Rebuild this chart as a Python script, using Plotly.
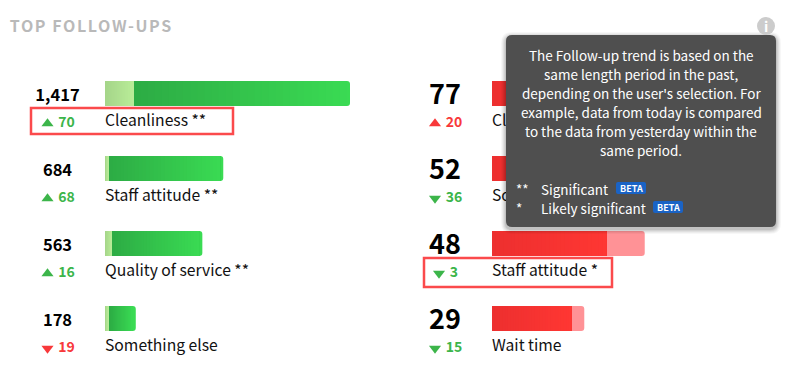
import plotly.graph_objects as go

# ---------- data ----------
left_categories = ["Cleanliness **", "Staff attitude **", "Quality of service **", "Something else"]
left_totals = [1417, 684, 563, 178]
left_light = [162, 23, 40, 23]
left_trends = [70, 68, 16, -19]

right_categories = ["Cleanliness", "Something else", "Staff attitude *", "Wait time"]
right_totals = [77, 52, 48, 29]
right_dark = [60, 40, 36, 25]
right_trends = [20, -36, -3, -15]

tooltip_lines = [
    "The Follow-up trend is based on the",
    "same length period in the past,",
    "depending on the user's selection. For",
    "example, data from today is compared",
    "to the data from yesterday within the",
    "same period.",
]
legend_marks = ["**", "*"]
legend_names = ["Significant", "Likely significant"]

# ---------- style ----------
W, H = 791, 390
FONT = "Noto Sans CJK JP"
GREEN, RED = "#3cb54a", "#f8383a"
ROWS = [0, 1, 2, 3]
ROW_PX = [93.5 + 75 * r for r in ROWS]
SLICES = 30


def lerp(c1, c2, t):
    return "rgb(%d,%d,%d)" % tuple(round(a + (b - a) * t) for a, b in zip(c1, c2))


def gradient_trace(starts, ends, c1, c2, xa, ya):
    ys, bases, lens, cols = [], [], [], []
    for r, s, e in zip(ROWS, starts, ends):
        for i in range(SLICES):
            t = i / SLICES
            b = s + (e - s) * t
            ys.append(r)
            bases.append(b)
            lens.append(e - b)
            cols.append(lerp(c1, c2, t))
    return go.Bar(y=ys, x=lens, base=bases, orientation="h", width=1 / 3,
                  marker=dict(color=cols, line_width=0), xaxis=xa, yaxis=ya, hoverinfo="skip")


fig = go.Figure()

# left bars (light then dark, green)
fig.add_trace(go.Bar(y=ROWS, x=left_totals, orientation="h", width=1 / 3,
                     marker=dict(color="#3adb53", line_width=0, cornerradius=3),
                     xaxis="x", yaxis="y", hoverinfo="skip"))
px_left = 1417 / 245
fig.add_trace(gradient_trace(left_light, [t - 3 * px_left for t in left_totals],
                             (45, 172, 69), (58, 219, 83), "x", "y"))
fig.add_trace(gradient_trace([0] * 4, left_light, (165, 213, 138), (185, 236, 152), "x", "y"))

# right bars (dark then light, red)
fig.add_trace(go.Bar(y=ROWS, x=right_totals, orientation="h", width=1 / 3,
                     marker=dict(color="#ff9296", line_width=0, cornerradius=3),
                     xaxis="x2", yaxis="y2", hoverinfo="skip"))
fig.add_trace(gradient_trace([0] * 4, right_dark, (237, 47, 47), (255, 55, 51), "x2", "y2"))


def text_trace(x, y, text, color, size, pos, bold=False):
    fig.add_trace(go.Scatter(
        x=x, y=y, text=text, mode="text", textposition=pos, cliponaxis=False,
        textfont=dict(family=FONT, color=color, size=size, weight=700 if bold else 400),
        xaxis="x3", yaxis="y3", hoverinfo="skip"))


# totals
text_trace([57.5] * 4, [p + 3 for p in ROW_PX], [f"{v:,}" for v in left_totals], "#000", 16.5, "middle center", True)
text_trace([445] * 4, [p + 4 for p in ROW_PX], [str(v) for v in right_totals], "#000", 27, "middle center", True)
# labels
text_trace([105] * 4, [p + 28.5 for p in ROW_PX], left_categories, "#111", 15.7, "middle right")
text_trace([492] * 4, [p + 28.5 for p in ROW_PX], right_categories, "#111", 15.7, "middle right")


def trend_traces(trends, center, up_good):
    good = [(t > 0) == up_good for t in trends]
    cols = [GREEN if g else RED for g in good]
    text_trace([center + 0.5] * 4, [p + 30 for p in ROW_PX], [str(abs(t)) for t in trends], cols, 14,
               "middle center", True)
    fig.add_trace(go.Scatter(
        x=[center - 10.5 - 4 * len(str(abs(t))) for t in trends],
        y=[p + 30 for p in ROW_PX], mode="markers", cliponaxis=False,
        marker=dict(size=10.5, color=cols, line_width=0,
                    symbol=["triangle-up" if t > 0 else "triangle-down" for t in trends]),
        xaxis="x3", yaxis="y3", hoverinfo="skip"))


trend_traces(left_trends, 66, True)
trend_traces(right_trends, 453.5, False)


def rrect(x0, y0, x1, y1, r):
    return (f"M{x0+r},{y0} L{x1-r},{y0} Q{x1},{y0} {x1},{y0+r} L{x1},{y1-r} Q{x1},{y1} {x1-r},{y1} "
            f"L{x0+r},{y1} Q{x0},{y1} {x0},{y1-r} L{x0},{y0+r} Q{x0},{y0} {x0+r},{y0} Z")


shapes = []


def add_rrect(x0, y0, x1, y1, r, fill, opacity=1):
    shapes.append(dict(type="path", path=rrect(x0, y0, x1, y1, r), xref="x3", yref="y3", layer="above",
                       fillcolor=fill, opacity=opacity, line_width=0))


# highlight boxes
for bx in [(31, 108, 233, 134), (424, 258, 612, 287)]:
    shapes.append(dict(type="rect", x0=bx[0], y0=bx[1], x1=bx[2], y1=bx[3], xref="x3", yref="y3",
                       layer="above", line=dict(color="#fb4a4c", width=2.5), fillcolor="rgba(0,0,0,0)"))
# tooltip shadow + body
for g, op in [(5, 0.03), (4, 0.04), (3, 0.05), (2, 0.06), (1, 0.08)]:
    add_rrect(506 - g, 35 - g + 2, 776 + g, 227 + g + 2, 6 + g, "#000", op)
add_rrect(506, 35, 776, 227, 6, "#4f4f4f")
# beta badges
add_rrect(616, 182, 646, 194, 2, "#1a63c5")
add_rrect(653, 201, 683, 213, 2, "#1a63c5")
# info icon
shapes.append(dict(type="circle", x0=757, y0=17, x1=775, y1=35, xref="x3", yref="y3",
                   layer="above", fillcolor="#cccccc", line_width=0))

anns = []


def note(x, y, text, color, size, anchor="left", bold=False):
    anns.append(dict(x=x, y=y, xref="x3", yref="y3", text=text, showarrow=False, xanchor=anchor,
                     yanchor="middle", borderpad=0,
                     font=dict(family=FONT, color=color, size=size, weight=700 if bold else 400)))


note(20, 25, "TOP FOLLOW-UPS", "#b9b9b9", 16, bold=True)
note(766, 26, "i", "#ffffff", 14, "center", True)
for i, line in enumerate(tooltip_lines):
    note(641, 55 + 19 * i, line, "#ffffff", 13.5, "center")
for i, (m, n) in enumerate(zip(legend_marks, legend_names)):
    note(515, 189 + 19 * i, m, "#ffffff", 13.5)
    note(540, 189 + 19 * i, n, "#ffffff", 13.5)
note(631, 188, "BETA", "#ffffff", 9, "center", True)
note(668, 207, "BETA", "#ffffff", 9, "center", True)

hidden = dict(visible=False, fixedrange=True)
fig.update_layout(
    width=W, height=H, margin=dict(l=0, r=0, t=0, b=0), autosize=False,
    paper_bgcolor="white", plot_bgcolor="rgba(0,0,0,0)", showlegend=False, barmode="overlay",
    shapes=shapes, annotations=anns,
    xaxis=dict(domain=[105 / W, 350 / W], range=[0, 1417], anchor="y", **hidden),
    xaxis2=dict(domain=[492 / W, 737 / W], range=[0, 77], anchor="y2", **hidden),
    xaxis3=dict(domain=[0, 1], range=[0, W], anchor="y3", **hidden),
    yaxis=dict(domain=[1 - 356 / H, 1 - 56 / H], range=[3.5, -0.5], anchor="x", **hidden),
    yaxis2=dict(domain=[1 - 356 / H, 1 - 56 / H], range=[3.5, -0.5], anchor="x2", **hidden),
    yaxis3=dict(domain=[0, 1], range=[H, 0], anchor="x3", **hidden),
)

post = """
document.body.style.margin='0';
document.body.style.overflow='hidden';
document.querySelectorAll('.annotation-text').forEach(function(t){
  if(t.textContent==='TOP FOLLOW-UPS'){t.style.letterSpacing='1.6px';}
});
"""
fig.write_html("out.html", post_script=post, config=dict(displayModeBar=False))
